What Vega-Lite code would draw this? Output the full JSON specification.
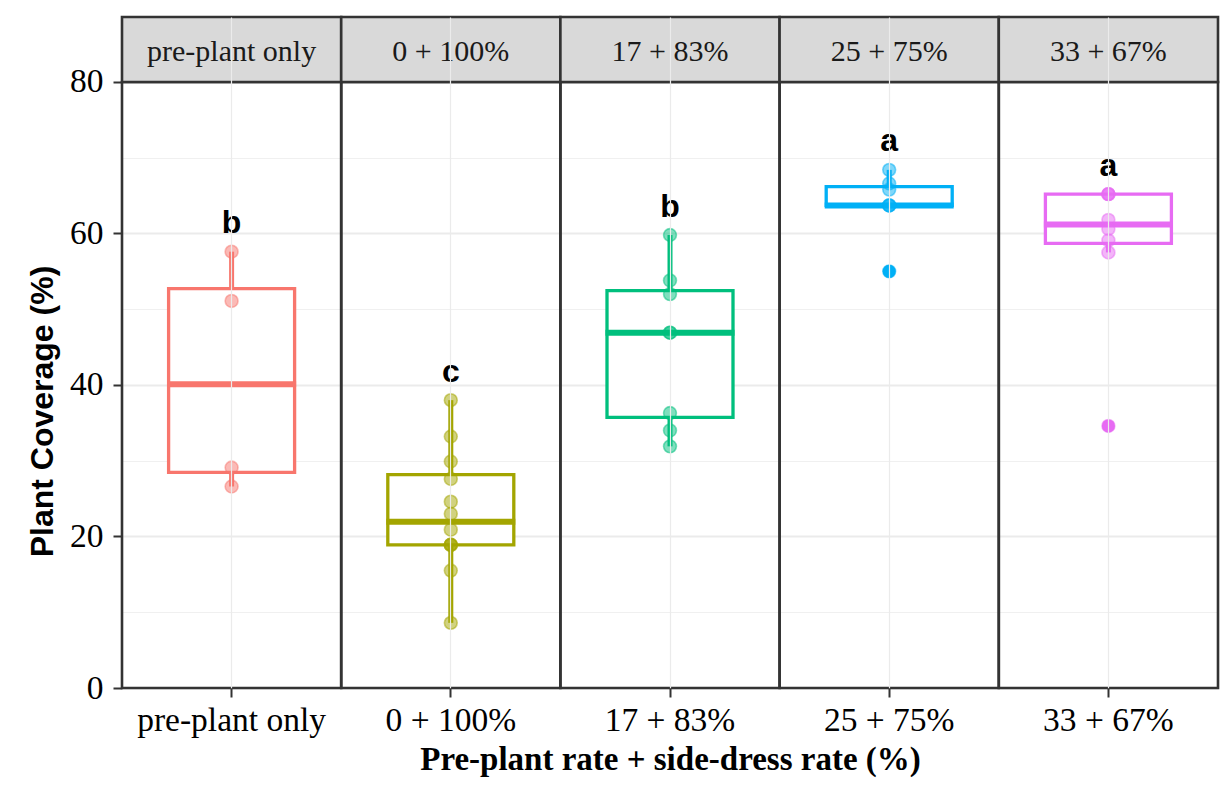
{
  "$schema": "https://vega.github.io/schema/vega-lite/v6.json",
  "width": 1096,
  "height": 671,
  "autosize": {"type": "none"},
  "padding": {"left": 122, "top": 17, "right": 2, "bottom": 108},
  "background": "white",
  "config": {"view": {"stroke": null}},
  "datasets": {
    "obs": [
      {"group": "pre-plant only", "letter": "b", "value": 57.6},
      {"group": "pre-plant only", "letter": "b", "value": 51.1},
      {"group": "pre-plant only", "letter": "b", "value": 29.1},
      {"group": "pre-plant only", "letter": "b", "value": 26.6},
      {"group": "0 + 100%", "letter": "c", "value": 38.0},
      {"group": "0 + 100%", "letter": "c", "value": 33.2},
      {"group": "0 + 100%", "letter": "c", "value": 29.9},
      {"group": "0 + 100%", "letter": "c", "value": 27.6},
      {"group": "0 + 100%", "letter": "c", "value": 24.6},
      {"group": "0 + 100%", "letter": "c", "value": 23.0},
      {"group": "0 + 100%", "letter": "c", "value": 20.9},
      {"group": "0 + 100%", "letter": "c", "value": 18.9},
      {"group": "0 + 100%", "letter": "c", "value": 18.9},
      {"group": "0 + 100%", "letter": "c", "value": 18.9},
      {"group": "0 + 100%", "letter": "c", "value": 15.5},
      {"group": "0 + 100%", "letter": "c", "value": 8.6},
      {"group": "17 + 83%", "letter": "b", "value": 59.8},
      {"group": "17 + 83%", "letter": "b", "value": 53.8},
      {"group": "17 + 83%", "letter": "b", "value": 52.0},
      {"group": "17 + 83%", "letter": "b", "value": 46.9},
      {"group": "17 + 83%", "letter": "b", "value": 46.9},
      {"group": "17 + 83%", "letter": "b", "value": 36.3},
      {"group": "17 + 83%", "letter": "b", "value": 34.0},
      {"group": "17 + 83%", "letter": "b", "value": 31.9},
      {"group": "25 + 75%", "letter": "a", "value": 68.4},
      {"group": "25 + 75%", "letter": "a", "value": 66.6},
      {"group": "25 + 75%", "letter": "a", "value": 65.8},
      {"group": "25 + 75%", "letter": "a", "value": 63.7},
      {"group": "25 + 75%", "letter": "a", "value": 63.7},
      {"group": "25 + 75%", "letter": "a", "value": 63.7},
      {"group": "25 + 75%", "letter": "a", "value": 55.0},
      {"group": "33 + 67%", "letter": "a", "value": 65.2},
      {"group": "33 + 67%", "letter": "a", "value": 65.2},
      {"group": "33 + 67%", "letter": "a", "value": 65.2},
      {"group": "33 + 67%", "letter": "a", "value": 61.8},
      {"group": "33 + 67%", "letter": "a", "value": 60.6},
      {"group": "33 + 67%", "letter": "a", "value": 59.1},
      {"group": "33 + 67%", "letter": "a", "value": 57.5},
      {"group": "33 + 67%", "letter": "a", "value": 34.6}
    ],
    "panels": [
      {"group": "pre-plant only"},
      {"group": "0 + 100%"},
      {"group": "17 + 83%"},
      {"group": "25 + 75%"},
      {"group": "33 + 67%"}
    ]
  },
  "encoding": {
    "x": {
      "field": "group",
      "type": "nominal",
      "sort": ["pre-plant only", "0 + 100%", "17 + 83%", "25 + 75%", "33 + 67%"],
      "scale": {"paddingInner": 0, "paddingOuter": 0},
      "axis": {
        "title": "Pre-plant rate + side-dress rate (%)",
        "labelAngle": 0,
        "labelLimit": 0,
        "bandPosition": 0.5,
        "grid": true,
        "gridColor": "#EBEBEB",
        "gridWidth": 1.2,
        "domain": false,
        "ticks": true,
        "tickColor": "#333333",
        "tickWidth": 2,
        "tickSize": 9,
        "labelFont": "Liberation Serif",
        "labelFontSize": 33.5,
        "labelColor": "#000000",
        "labelPadding": 7,
        "labelBaseline": "top",
        "titleFont": "Liberation Serif",
        "titleFontSize": 33,
        "titleFontWeight": "bold",
        "titleColor": "#000000",
        "titleBaseline": "alphabetic",
        "titleY": 81
      }
    }
  },
  "resolve": {"axis": {"y": "independent"}},
  "layer": [
    {
      "data": {"name": "panels"},
      "mark": {"type": "rect", "fill": "transparent", "strokeWidth": 0},
      "encoding": {
        "y": {
          "datum": 0,
          "type": "quantitative",
          "scale": {"domain": [0, 88.58], "nice": false, "zero": true},
          "axis": {
            "orient": "left",
            "values": [10, 30, 50, 70],
            "grid": true,
            "gridColor": "#F0F0F0",
            "gridWidth": 1.2,
            "ticks": false,
            "labels": false,
            "domain": false,
            "title": null
          }
        },
        "y2": {"datum": 80}
      }
    },
    {
      "data": {"name": "obs"},
      "transform": [
        {"joinaggregate": [{"op": "q1", "field": "value", "as": "q1"}, {"op": "q3", "field": "value", "as": "q3"}], "groupby": ["group"]},
        {"filter": "datum.value >= datum.q1 - 1.5 * (datum.q3 - datum.q1) && datum.value <= datum.q3 + 1.5 * (datum.q3 - datum.q1)"},
        {"aggregate": [
          {"op": "min", "field": "value", "as": "lo"},
          {"op": "max", "field": "value", "as": "hi"},
          {"op": "min", "field": "q1", "as": "bq1"},
          {"op": "min", "field": "q3", "as": "bq3"}
        ], "groupby": ["group"]}
      ],
      "layer": [
        {
          "mark": {"type": "rule"},
          "encoding": {
            "y": {"field": "lo", "type": "quantitative", "scale": {"domain": [0, 88.58], "nice": false, "zero": true}, "axis": null},
            "y2": {"field": "bq1"},
            "color": {"field": "group", "type": "nominal", "legend": null},
            "strokeWidth": {"value": 5}
          }
        },
        {
          "mark": {"type": "rule"},
          "encoding": {
            "y": {"field": "bq3", "type": "quantitative", "scale": {"domain": [0, 88.58], "nice": false, "zero": true}, "axis": null},
            "y2": {"field": "hi"},
            "color": {"field": "group", "type": "nominal", "legend": null},
            "strokeWidth": {"value": 5}
          }
        }
      ]
    },
    {
      "data": {"name": "obs"},
      "mark": {
        "type": "boxplot",
        "extent": 1.5,
        "size": 126,
        "box": {"filled": false, "fill": "white"},
        "median": false,
        "rule": false,
        "outliers": {"filled": true, "opacity": 1, "size": 95}
      },
      "encoding": {
        "y": {
          "field": "value",
          "type": "quantitative",
          "scale": {"domain": [0, 88.58], "nice": false, "zero": true},
          "axis": {
            "orient": "left",
            "values": [0, 20, 40, 60, 80],
            "grid": true,
            "gridColor": "#EBEBEB",
            "gridWidth": 2,
            "domain": false,
            "ticks": true,
            "tickColor": "#333333",
            "tickWidth": 2,
            "tickSize": 9,
            "labelFont": "Liberation Serif",
            "labelFontSize": 33.5,
            "labelColor": "#000000",
            "labelPadding": 10,
            "title": "Plant Coverage (%)",
            "titleFont": "Liberation Sans",
            "titleFontSize": 32,
            "titleFontWeight": "bold",
            "titleColor": "#000000",
            "titleAngle": -90,
            "titleAlign": "center",
            "titleBaseline": "middle",
            "titleX": -80,
            "titleY": 394
          }
        },
        "color": {
          "field": "group",
          "type": "nominal",
          "scale": {
            "domain": ["pre-plant only", "0 + 100%", "17 + 83%", "25 + 75%", "33 + 67%"],
            "range": ["#F8766D", "#A3A500", "#00BF7D", "#00B0F6", "#E76BF3"]
          },
          "legend": null
        },
        "stroke": {
          "field": "group",
          "type": "nominal",
          "scale": {
            "domain": ["pre-plant only", "0 + 100%", "17 + 83%", "25 + 75%", "33 + 67%"],
            "range": ["#F8766D", "#A3A500", "#00BF7D", "#00B0F6", "#E76BF3"]
          },
          "legend": null
        },
        "strokeWidth": {"value": 3.3}
      }
    },
    {
      "data": {"name": "obs"},
      "transform": [
        {"aggregate": [{"op": "median", "field": "value", "as": "med"}], "groupby": ["group"]}
      ],
      "mark": {"type": "tick", "orient": "horizontal", "thickness": 6, "size": 129, "opacity": 1},
      "encoding": {
        "y": {"field": "med", "type": "quantitative", "scale": {"domain": [0, 88.58], "nice": false, "zero": true}, "axis": null},
        "color": {"field": "group", "type": "nominal", "legend": null}
      }
    },
    {
      "data": {"name": "obs"},
      "mark": {"type": "point", "filled": true, "size": 165, "opacity": 1, "fillOpacity": 0.5, "strokeOpacity": 0.5, "strokeWidth": 1.6},
      "encoding": {
        "y": {"field": "value", "type": "quantitative", "scale": {"domain": [0, 88.58], "nice": false, "zero": true}, "axis": null},
        "color": {"field": "group", "type": "nominal", "legend": null},
        "stroke": {"field": "group", "type": "nominal", "legend": null}
      }
    },
    {
      "data": {"name": "obs"},
      "transform": [
        {"aggregate": [{"op": "max", "field": "value", "as": "top"}], "groupby": ["group", "letter"]}
      ],
      "mark": {"type": "text", "font": "Liberation Sans", "fontWeight": "bold", "fontSize": 32, "baseline": "alphabetic", "align": "center", "dy": -18.5, "color": "#000000"},
      "encoding": {
        "y": {"field": "top", "type": "quantitative", "scale": {"domain": [0, 88.58], "nice": false, "zero": true}, "axis": null},
        "text": {"field": "letter"}
      }
    },
    {
      "data": {"name": "panels"},
      "mark": {"type": "rect", "fill": null, "fillOpacity": 0, "stroke": "#333333", "strokeWidth": 2.6},
      "encoding": {
        "y": {"datum": 0, "type": "quantitative", "scale": {"domain": [0, 88.58], "nice": false, "zero": true}, "axis": null},
        "y2": {"datum": 80}
      }
    },
    {
      "data": {"name": "panels"},
      "mark": {"type": "rect", "fill": "#D9D9D9", "stroke": "#333333", "strokeWidth": 2.6},
      "encoding": {
        "y": {"datum": 80, "type": "quantitative", "scale": {"domain": [0, 88.58], "nice": false, "zero": true}, "axis": null},
        "y2": {"datum": 88.58}
      }
    },
    {
      "data": {"name": "panels"},
      "mark": {"type": "text", "font": "Liberation Serif", "fontSize": 30, "color": "#1A1A1A", "baseline": "middle", "align": "center", "dy": 3},
      "encoding": {
        "y": {"datum": 84.29, "type": "quantitative", "scale": {"domain": [0, 88.58], "nice": false, "zero": true}, "axis": null},
        "text": {"field": "group"}
      }
    }
  ]
}
